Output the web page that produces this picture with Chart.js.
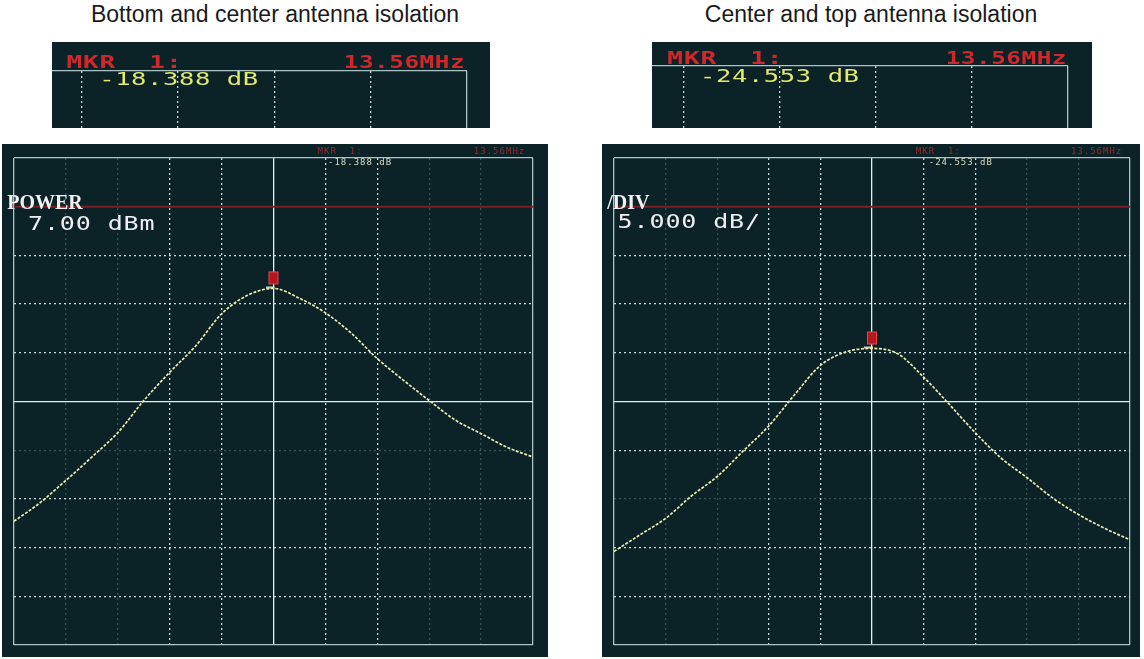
<!DOCTYPE html>
<html>
<head>
<meta charset="utf-8">
<script src="https://cdn.jsdelivr.net/npm/chart.js@4.4.1/dist/chart.umd.min.js"></script>
<style>
  body { margin: 0; background: #fff; width: 1144px; height: 659px; position: relative; overflow: hidden; }
  .title { position: absolute; top: 1px; font: 23px "Liberation Sans", Arial, sans-serif; color: #1a1a1a; text-align: center; }
  canvas { position: absolute; }
</style>
</head>
<body>
<div class="title" id="titleA" style="left:0;width:550px"></div>
<div class="title" id="titleB" style="left:598px;width:546px"></div>
<canvas id="insetA" width="438" height="86" style="left:52px;top:42px"></canvas>
<canvas id="insetB" width="440" height="86" style="left:652px;top:42px"></canvas>
<canvas id="mainA" width="546" height="513" style="left:2px;top:144px"></canvas>
<canvas id="mainB" width="538" height="513" style="left:602px;top:144px"></canvas>
<script>
// trace sampled every half division, 1 MHz/div around the 13.56 MHz marker
var freqMHz = [8.56, 9.06, 9.56, 10.06, 10.56, 11.06, 11.56, 12.06, 12.56, 13.06, 13.56,
               14.06, 14.56, 15.06, 15.56, 16.06, 16.56, 17.06, 17.56, 18.06, 18.56];
var bottomCenterDb = [-42.3, -40.4, -38.1, -35.7, -33.2, -29.9, -27.0, -24.3, -21.0, -19.1, -18.388,
                      -19.4, -20.9, -23.0, -25.6, -27.8, -29.9, -31.9, -33.3, -34.7, -35.7];
var centerTopDb = [-45.4, -43.7, -42.0, -39.7, -37.7, -35.1, -32.5, -29.3, -26.3, -24.9, -24.553,
                   -25.1, -27.5, -30.3, -33.2, -35.8, -37.8, -39.9, -41.6, -43.0, -44.2];
var markerMHz = 13.56;
var markerDb = [-18.388, -24.553];
var refLevelDb = -10;

var xGridMHz = [8.56, 9.56, 10.56, 11.56, 12.56, 13.56, 14.56, 15.56, 16.56, 17.56, 18.56];
var yGridDb = [-55, -50, -45, -40, -35, -30, -25, -20, -15, -10, -5];
var insetGrid = [0, 1, 2, 3, 4];

var titles = ['Bottom and center antenna isolation', 'Center and top antenna isolation'];
var markerLabel = 'MKR  1:';
var markerFreqLabel = '13.56MHz';
var markerReadouts = ['-18.388 dB', '-24.553 dB'];
var settingNames = ['POWER', '/DIV'];
var settingValues = ['7.00 dBm', '5.000 dB/'];

var BG = '#0b2327';
var BRIGHT = 'rgba(205,228,228,0.95)';
var FAINT = 'rgba(150,190,192,0.30)';
var FRAME = '#aac4c6';
var CENTER = '#dff2f2';
var MONO = '"DejaVu Sans Mono", monospace';
var SERIF = '"Liberation Serif", serif';

document.getElementById('titleA').textContent = titles[0];
document.getElementById('titleB').textContent = titles[1];

var screenText = {
    id: 'screenText',
    beforeDraw: function(chart, args, opts) {
        var ctx = chart.ctx;
        ctx.save();
        ctx.fillStyle = opts.bg;
        ctx.fillRect(0, 0, chart.width, chart.height);
        ctx.restore();
    },
    afterDraw: function(chart, args, opts) {
        var ctx = chart.ctx, sx = chart.scales.x, sy = chart.scales.y;
        opts.items.forEach(function(it) {
            ctx.save();
            ctx.translate(sx.getPixelForValue(it.x), sy.getPixelForValue(it.y));
            ctx.scale(it.stretch || 1, 1);   // the analyzer font is wide
            ctx.font = it.font;
            ctx.fillStyle = it.color;
            ctx.letterSpacing = (it.spacing || 0) + 'px';
            ctx.textAlign = it.align || 'left';
            ctx.textBaseline = 'alphabetic';
            ctx.fillText(it.text, 0, 0);
            ctx.restore();
        });
    }
};

function markerImage() {
    var c = document.createElement('canvas');
    c.width = 16; c.height = 44;
    var g = c.getContext('2d');
    g.fillStyle = '#b5151c';
    g.fillRect(3, 5, 10, 13);
    g.strokeStyle = '#e2484a';
    g.lineWidth = 1;
    g.strokeRect(3.5, 5.5, 9, 12);
    g.fillStyle = 'rgba(240,236,200,0.85)';
    g.fillRect(0, 20, 9, 2);
    return c;
}

function gridScale(ticks, min, max, colorFn, dashFn) {
    return {
        type: 'linear', min: min, max: max,
        afterBuildTicks: function(s) { s.ticks = ticks.map(function(v) { return {value: v}; }); },
        afterFit: function(s) { if (s.isHorizontal()) s.height = 0; else s.width = 0; },
        ticks: {display: false},
        grid: {color: colorFn, lineWidth: 1.3, drawTicks: false},
        border: {display: false, dash: dashFn}
    };
}

function mainChart(id, dbValues, peakDb, faintRows, items, padding) {
    var xMin = xGridMHz[0], xMax = xGridMHz[xGridMHz.length - 1];
    var yMin = yGridDb[0], yMax = yGridDb[yGridDb.length - 1];
    var xColor = function(c) {
        var i = c.index;
        if (i === 0 || i === 10) return FRAME;
        if (i === 5) return CENTER;
        return (i === 1 || i === 2 || i === 8 || i === 9) ? FAINT : BRIGHT;
    };
    var yColor = function(c) {
        var i = c.index;
        if (i === 0 || i === 10) return FRAME;
        if (i === 5) return CENTER;
        var v = yGridDb[i];
        if (v === refLevelDb) return 'rgba(0,0,0,0)';
        return faintRows.indexOf(v) >= 0 ? FAINT : BRIGHT;
    };
    var dash = function(c) {
        var i = c.index;
        return (i === 0 || i === 5 || i === 10) ? [] : [2, 3];
    };
    return new Chart(document.getElementById(id), {
        type: 'line',
        data: {
            datasets: [{
                label: 'trace',
                data: freqMHz.map(function(f, i) { return {x: f, y: dbValues[i]}; }),
                borderColor: '#e9edb0',
                borderWidth: 1.7,
                borderDash: [3, 1.5],
                pointRadius: 0,
                cubicInterpolationMode: 'monotone',
                order: 2
            }, {
                label: 'reference',
                data: [{x: xMin, y: refLevelDb}, {x: xMax, y: refLevelDb}],
                borderColor: '#7c1f22',
                borderWidth: 2,
                pointRadius: 0,
                order: 3
            }, {
                label: 'marker',
                data: [{x: markerMHz, y: peakDb}],
                showLine: false,
                pointStyle: markerImage(),
                pointRadius: 8,
                order: 1
            }]
        },
        options: {
            responsive: false,
            animation: false,
            devicePixelRatio: 1,
            events: [],
            layout: {padding: padding},
            scales: {
                x: gridScale(xGridMHz, xMin, xMax, xColor, dash),
                y: gridScale(yGridDb, yMin, yMax, yColor, dash)
            },
            plugins: {
                legend: {display: false},
                tooltip: {enabled: false},
                screenText: {bg: BG, items: items}
            }
        },
        plugins: [screenText]
    });
}

function insetChart(id, xMinV, items, padding) {
    return new Chart(document.getElementById(id), {
        type: 'line',
        data: {datasets: []},
        options: {
            responsive: false,
            animation: false,
            devicePixelRatio: 1,
            events: [],
            layout: {padding: padding},
            scales: {
                x: gridScale(insetGrid, xMinV, 4,
                    function(c) { return c.index === 4 ? FRAME : BRIGHT; },
                    function(c) { return c.index === 4 ? [] : [2, 3]; }),
                y: gridScale([1], 0, 1, function() { return FRAME; }, function() { return []; })
            },
            plugins: {
                legend: {display: false},
                tooltip: {enabled: false},
                screenText: {bg: BG, items: items}
            }
        },
        plugins: [screenText]
    });
}

// zoomed marker readouts
insetChart('insetA', -0.31, [
    {text: markerLabel, x: -0.16, y: 1.06, font: 'bold 18px ' + MONO, color: '#d3262b', spacing: 0.6, stretch: 1.45},
    {text: markerFreqLabel, x: 3.98, y: 1.06, font: 'bold 18px ' + MONO, color: '#d3262b', spacing: 0.4, stretch: 1.35, align: 'right'},
    {text: markerReadouts[0], x: 0.18, y: 0.75, font: '17px ' + MONO, color: '#e4ea6a', spacing: 0.4, stretch: 1.5}
], {top: 29, left: 0, right: 23, bottom: 0});

insetChart('insetB', -0.33, [
    {text: markerLabel, x: -0.17, y: 1.03, font: 'bold 18px ' + MONO, color: '#d3262b', spacing: 0.6, stretch: 1.45},
    {text: markerFreqLabel, x: 3.99, y: 1.03, font: 'bold 18px ' + MONO, color: '#d3262b', spacing: 0.4, stretch: 1.35, align: 'right'},
    {text: markerReadouts[1], x: 0.17, y: 0.74, font: '17px ' + MONO, color: '#e4ea6a', spacing: 0.4, stretch: 1.5}
], {top: 24, left: 0, right: 24, bottom: 0});

// full analyzer screens
mainChart('mainA', bottomCenterDb, markerDb[0], [-35], [
    {text: settingNames[0], x: 8.43, y: -10.24, font: 'bold 20px ' + SERIF, color: '#f0f0f0'},
    {text: settingValues[0], x: 8.83, y: -12.4, font: '20px ' + MONO, color: '#f0f0f0', spacing: 0.7, stretch: 1.25},
    {text: markerLabel, x: 14.41, y: -4.6, font: '9px ' + MONO, color: '#9a2a2e', spacing: 1},
    {text: markerFreqLabel, x: 18.41, y: -4.6, font: '9px ' + MONO, color: '#9a2a2e', spacing: 1, align: 'right'},
    {text: markerReadouts[0], x: 14.61, y: -5.75, font: '9px ' + MONO, color: '#d8dcc0', spacing: 1}
], {left: 12, right: 15, top: 14, bottom: 12});

mainChart('mainB', centerTopDb, markerDb[1], [-40], [
    {text: settingNames[1], x: 8.43, y: -10.24, font: 'bold 20px ' + SERIF, color: '#f0f0f0'},
    {text: settingValues[1], x: 8.63, y: -12.2, font: '20px ' + MONO, color: '#f0f0f0', spacing: 0.7, stretch: 1.25},
    {text: markerLabel, x: 14.41, y: -4.6, font: '9px ' + MONO, color: '#9a2a2e', spacing: 1},
    {text: markerFreqLabel, x: 18.41, y: -4.6, font: '9px ' + MONO, color: '#9a2a2e', spacing: 1, align: 'right'},
    {text: markerReadouts[1], x: 14.66, y: -5.75, font: '9px ' + MONO, color: '#d8dcc0', spacing: 1}
], {left: 12, right: 10, top: 14, bottom: 12});
</script>
</body>
</html>
